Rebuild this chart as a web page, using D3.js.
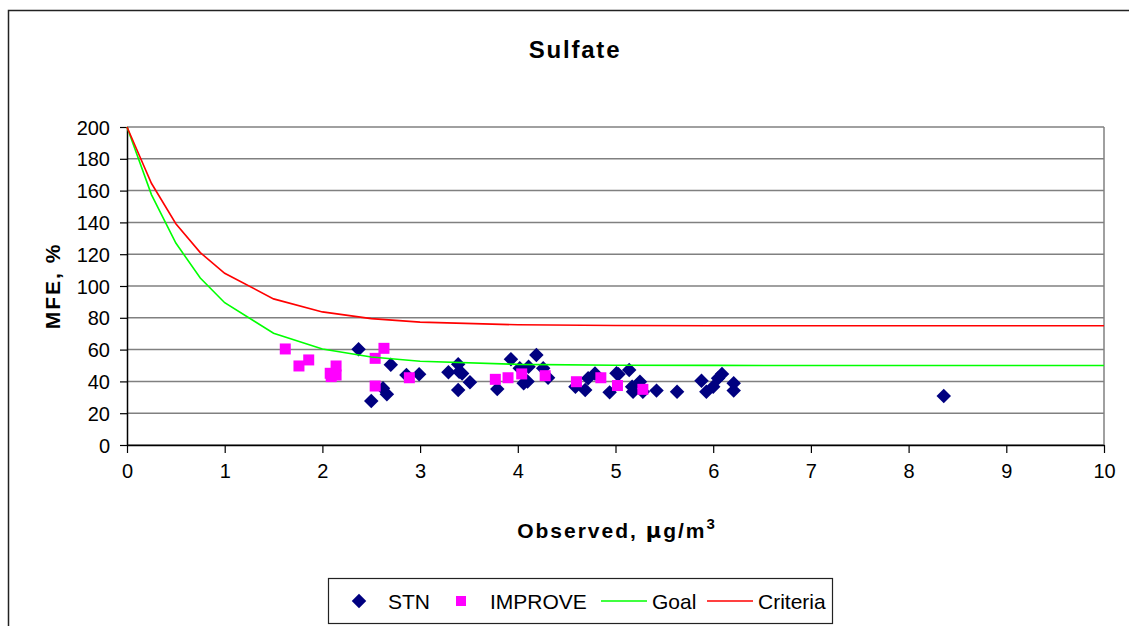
<!DOCTYPE html>
<html>
<head>
<meta charset="utf-8">
<script src="https://cdn.jsdelivr.net/npm/d3@7"></script>
<style>
  body { margin: 0; background: #fff; }
  svg text { font-family: "Liberation Sans", Arial, sans-serif; }
</style>
</head>
<body>
<svg id="chart" width="1129" height="626"></svg>
<script>
// curve vertices (observed, MFE %)
const curveX = [0, 0.25, 0.5, 0.75, 1, 1.5, 2, 2.5, 3, 4, 5, 6, 7, 8, 9, 10];
const goalY = [200, 157.5, 127, 105, 89.5, 70.3, 60.4, 55.3, 52.7, 50.7, 50.2, 50.05, 50, 50, 50, 50];
const criteriaY = [200, 164.6, 139.2, 121, 108, 91.9, 83.7, 79.5, 77.3, 75.6, 75.2, 75.04, 75, 75, 75, 75];

// STN sites
const stnX = [2.37, 2.50, 2.62, 2.66, 2.70, 2.86, 2.99, 3.29, 3.39, 3.40, 3.39, 3.43, 3.51,
  3.79, 3.93, 4.02, 4.06, 4.10, 4.11, 4.19, 4.26, 4.31, 4.59, 4.69, 4.72, 4.79, 4.94,
  5.01, 5.03, 5.14, 5.17, 5.18, 5.25, 5.28, 5.42, 5.63, 5.88, 5.93, 6.00, 6.05, 6.09,
  6.21, 6.21, 8.36];
const stnY = [60.2, 27.7, 35.7, 31.9, 50.5, 44, 44.5, 45.7, 50.8, 46, 34.6, 45, 39.4,
  35.2, 54, 48.2, 38.8, 40, 49.2, 56.6, 48.2, 42.3, 36.7, 34.6, 42, 45, 33.1,
  45.1, 44.5, 47.2, 36.7, 33.5, 39.8, 33.5, 34.2, 33.5, 40.4, 33.5, 36.7, 42, 44.7,
  38.8, 34.2, 30.8];

// IMPROVE sites
const impX = [1.62, 1.76, 1.86, 2.08, 2.09, 2.14, 2.14, 2.54, 2.63, 2.54, 2.89,
  3.77, 3.90, 4.04, 4.28, 4.60, 4.85, 5.02, 5.28];
const impY = [60.4, 49.7, 53.5, 45.1, 43, 49.7, 44, 54.5, 60.8, 37.1, 42.3,
  41.3, 42.3, 44.7, 43.6, 39.8, 42.3, 37.4, 35];

const xTicks = d3.range(0, 11, 1);
const yTicks = d3.range(0, 201, 20);

const svg = d3.select('#chart');

// outer frame, only top and left visible
svg.append('rect')
  .attr('x', 8.5).attr('y', 10.5)
  .attr('width', 1300).attr('height', 800)
  .attr('fill', 'none').attr('stroke', '#222').attr('stroke-width', 1.5);

const plotLeft = 127, plotRight = 1104, plotTop = 127, plotBottom = 445;
const x = d3.scaleLinear().domain([0, 10]).range([plotLeft, plotRight]);
const y = d3.scaleLinear().domain([0, 200]).range([plotBottom, plotTop]);

// gridlines
svg.append('g')
  .selectAll('line')
  .data(yTicks)
  .join('line')
  .attr('x1', plotLeft).attr('x2', plotRight)
  .attr('y1', d => y(d)).attr('y2', d => y(d))
  .attr('stroke', '#808080').attr('stroke-width', 1.5);

// plot area right edge
svg.append('line')
  .attr('x1', plotRight).attr('x2', plotRight).attr('y1', plotTop).attr('y2', plotBottom)
  .attr('stroke', '#808080').attr('stroke-width', 1.5);

// axes
const xAxis = svg.append('g')
  .attr('transform', `translate(0,${plotBottom})`)
  .call(d3.axisBottom(x).tickValues(xTicks).tickFormat(d3.format('d')).tickSize(8).tickSizeOuter(0).tickPadding(5));
const yAxis = svg.append('g')
  .attr('transform', `translate(${plotLeft},0)`)
  .call(d3.axisLeft(y).tickValues(yTicks).tickSize(7).tickSizeOuter(0).tickPadding(10));

[xAxis, yAxis].forEach(a => {
  a.select('.domain').attr('stroke', '#000').attr('stroke-width', 1.5);
  a.selectAll('.tick line').attr('stroke', '#000').attr('stroke-width', 1.2);
  a.selectAll('.tick text')
    .attr('fill', '#000')
    .style('font-size', '20px')
    .style('font-family', '"Liberation Sans", Arial, sans-serif');
});
xAxis.selectAll('.tick text').attr('dy', '1.0em');
yAxis.selectAll('.tick text').attr('dy', '0.35em');

// scatter points
const diamond = d3.symbol().type(d3.symbolSquare).size(105);
const square = d3.symbol().type(d3.symbolSquare).size(121);

svg.append('g')
  .selectAll('path')
  .data(stnX.map((v, i) => [v, stnY[i]]))
  .join('path')
  .attr('d', diamond)
  .attr('transform', d => `translate(${x(d[0])},${y(d[1])}) rotate(45)`)
  .attr('fill', '#000080');

svg.append('g')
  .selectAll('path')
  .data(impX.map((v, i) => [v, impY[i]]))
  .join('path')
  .attr('d', square)
  .attr('transform', d => `translate(${x(d[0])},${y(d[1])})`)
  .attr('fill', '#ff00ff');

// curves
const line = d3.line().x(d => x(d[0])).y(d => y(d[1]));
svg.append('path')
  .datum(curveX.map((v, i) => [v, goalY[i]]))
  .attr('d', line)
  .attr('fill', 'none').attr('stroke', '#00ff00').attr('stroke-width', 1.6);
svg.append('path')
  .datum(curveX.map((v, i) => [v, criteriaY[i]]))
  .attr('d', line)
  .attr('fill', 'none').attr('stroke', '#ff0000').attr('stroke-width', 1.6);

// title and axis labels
svg.append('text')
  .attr('x', 575).attr('y', 58)
  .attr('text-anchor', 'middle')
  .style('font-size', '24px').style('font-weight', 'bold')
  .style('letter-spacing', '1.8px')
  .text('Sulfate');

const xl = svg.append('text')
  .attr('x', 617).attr('y', 538)
  .attr('text-anchor', 'middle')
  .style('font-size', '21px').style('font-weight', 'bold')
  .style('letter-spacing', '2px');
xl.append('tspan').text('Observed, ');
xl.append('tspan').style('font-family', '"DejaVu Sans", sans-serif').text('μ');
xl.append('tspan').text('g/m');
xl.append('tspan').attr('dy', -9).style('font-size', '15px').text('3');

svg.append('text')
  .attr('transform', 'translate(60,286) rotate(-90)')
  .attr('text-anchor', 'middle')
  .style('font-size', '21px').style('font-weight', 'bold')
  .style('letter-spacing', '2px')
  .text('MFE, %');

// legend
const lg = svg.append('g');
lg.append('rect')
  .attr('x', 328.5).attr('y', 578.5).attr('width', 504).attr('height', 45)
  .attr('fill', '#fff').attr('stroke', '#222').attr('stroke-width', 1.2);
const ly = 601;
const legendFont = '21px';
lg.append('path').attr('d', diamond)
  .attr('transform', `translate(359,${ly}) rotate(45)`).attr('fill', '#000080');
lg.append('text').attr('x', 388).attr('y', ly + 8).style('font-size', legendFont).text('STN');
lg.append('path').attr('d', d3.symbol().type(d3.symbolSquare).size(100))
  .attr('transform', `translate(461,${ly})`).attr('fill', '#ff00ff');
lg.append('text').attr('x', 490).attr('y', ly + 8).style('font-size', legendFont).text('IMPROVE');
lg.append('line').attr('x1', 601).attr('x2', 647).attr('y1', ly).attr('y2', ly)
  .attr('stroke', '#00ff00').attr('stroke-width', 1.6);
lg.append('text').attr('x', 652).attr('y', ly + 8).style('font-size', legendFont).text('Goal');
lg.append('line').attr('x1', 707).attr('x2', 753).attr('y1', ly).attr('y2', ly)
  .attr('stroke', '#ff0000').attr('stroke-width', 1.6);
lg.append('text').attr('x', 758).attr('y', ly + 8).style('font-size', legendFont).text('Criteria');
</script>
</body>
</html>
